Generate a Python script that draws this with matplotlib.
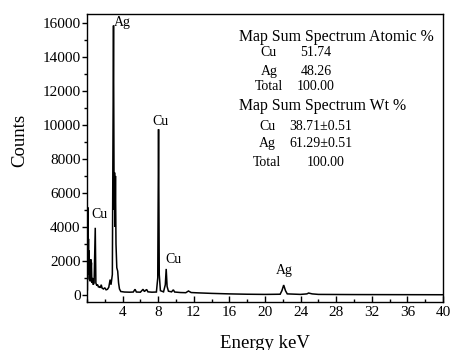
import matplotlib
matplotlib.use("Agg")
import matplotlib.pyplot as plt
from matplotlib.ticker import MultipleLocator

# ── DATA ─────────────────────────────────────────────────────
# EDS spectrum (energy in keV, counts)
ENERGY = [
    0.05, 0.10, 0.14, 0.17, 0.20, 0.24, 0.28, 0.32, 0.36, 0.42,
    0.46, 0.50, 0.55, 0.62, 0.70, 0.80, 0.93, 1.00, 1.10, 1.20,
    1.30, 1.40, 1.50, 1.60, 1.70, 1.85, 2.00, 2.15, 2.30, 2.45,
    2.60, 2.70, 2.85, 2.98, 3.05, 3.10, 3.15, 3.20, 3.26, 3.35,
    3.45, 3.55, 3.65, 3.80, 4.20, 4.80, 5.20, 5.40, 5.55, 6.00,
    6.30, 6.45, 6.70, 6.85, 7.30, 7.80, 7.95, 8.04, 8.12, 8.25,
    8.60, 8.80, 8.90, 9.00, 9.15, 9.50, 9.70, 9.85, 10.5, 11.1,
    11.4, 11.7, 12.5, 14.0, 16.0, 18.0, 20.0, 21.7, 21.9, 22.1,
    22.3, 22.5, 24.0, 24.7, 24.9, 25.3, 26.0, 30.0, 35.0, 40.0,
]
COUNTS = [
    300, 5150, 1800, 3300, 1200, 2600, 900, 2000, 800, 2100,
    1500, 1900, 700, 1000, 600, 700, 3950, 700, 550, 600,
    450, 500, 420, 600, 400, 350, 420, 300, 330, 450,
    900, 600, 1200, 15850, 5000, 7200, 4000, 7000, 3000, 1600,
    1400, 700, 350, 200, 170, 160, 170, 330, 170, 160,
    330, 200, 320, 180, 160, 170, 1000, 9750, 1200, 250,
    180, 600, 1530, 500, 220, 180, 300, 170, 140, 130,
    230, 140, 120, 90, 60, 40, 30, 40, 250, 580,
    250, 60, 30, 60, 110, 60, 30, 20, 15, 10,
]

# peak labels: (text, energy, counts)
PEAK_LABELS = ["Ag", "Cu", "Cu", "Cu", "Ag"]
PEAK_X      = [3.05, 8.25, 1.45, 9.70, 22.15]
PEAK_Y      = [16050, 10230, 4720, 2060, 1410]

ELEMENTS   = ["Cu", "Ag", "Total"]
ATOMIC_PCT = ["51.74", "48.26", "100.00"]
WT_PCT     = ["38.71\u00b10.51", "61.29\u00b10.51", "100.00"]

# ── PLOT ─────────────────────────────────────────────────────
plt.rcParams["font.family"] = ["Liberation Serif", "DejaVu Serif"]

fig = plt.figure(figsize=(4.53, 3.5), dpi=100)
ax = fig.add_axes([0.192, 0.137, 0.786, 0.823])

ax.plot(ENERGY, COUNTS, color="black", lw=1.1, solid_joinstyle="miter")

ax.set_xlim(0, 40)
ax.set_ylim(-420, 16530)

ax.xaxis.set_major_locator(MultipleLocator(4))
ax.xaxis.set_minor_locator(MultipleLocator(2))
ax.yaxis.set_major_locator(MultipleLocator(2000))
ax.yaxis.set_minor_locator(MultipleLocator(1000))
ax.set_xticks(range(4, 41, 4))

ax.tick_params(axis="x", which="both", direction="in", labelsize=11, pad=3, width=1)
ax.tick_params(axis="x", which="major", length=4.5)
ax.tick_params(axis="x", which="minor", length=2.5)
ax.tick_params(axis="y", which="both", direction="out", labelsize=11, pad=1, width=1)
ax.tick_params(axis="y", which="major", length=3.5)
ax.tick_params(axis="y", which="minor", length=2)

for s in ax.spines.values():
    s.set_linewidth(1.0)

ax.set_xlabel("Energy keV", fontsize=13.5)
ax.set_ylabel("Counts", fontsize=13.5)
ax.xaxis.set_label_coords(0.5, -0.113)
ax.yaxis.set_label_coords(-0.166, 0.56)

for txt, x, y in zip(PEAK_LABELS, PEAK_X, PEAK_Y):
    ha = "left" if txt == "Ag" and x < 5 else "center"
    ax.text(x, y, txt, ha=ha, va="center", fontsize=10)

# composition tables
tr = ax.transAxes
ax.text(0.427, 0.920, "Map Sum Spectrum Atomic %", transform=tr,
        ha="left", va="center", fontsize=11.4)
rows_a = [0.868, 0.802, 0.747]
for el, val, y in zip(ELEMENTS, ATOMIC_PCT, rows_a):
    ax.text(0.511, y, el, transform=tr, ha="center", va="center", fontsize=10)
    ax.text(0.643, y, val, transform=tr, ha="center", va="center", fontsize=10)

ax.text(0.427, 0.681, "Map Sum Spectrum Wt %", transform=tr,
        ha="left", va="center", fontsize=11.4)
rows_w = [0.611, 0.549, 0.486]
for el, val, y in zip(ELEMENTS, WT_PCT, rows_w):
    ax.text(0.506, y, el, transform=tr, ha="center", va="center", fontsize=10)
    xv = 0.67 if val == "100.00" else 0.657
    ax.text(xv, y, val, transform=tr, ha="center", va="center", fontsize=10)

fig.savefig("out.png", dpi=100)
